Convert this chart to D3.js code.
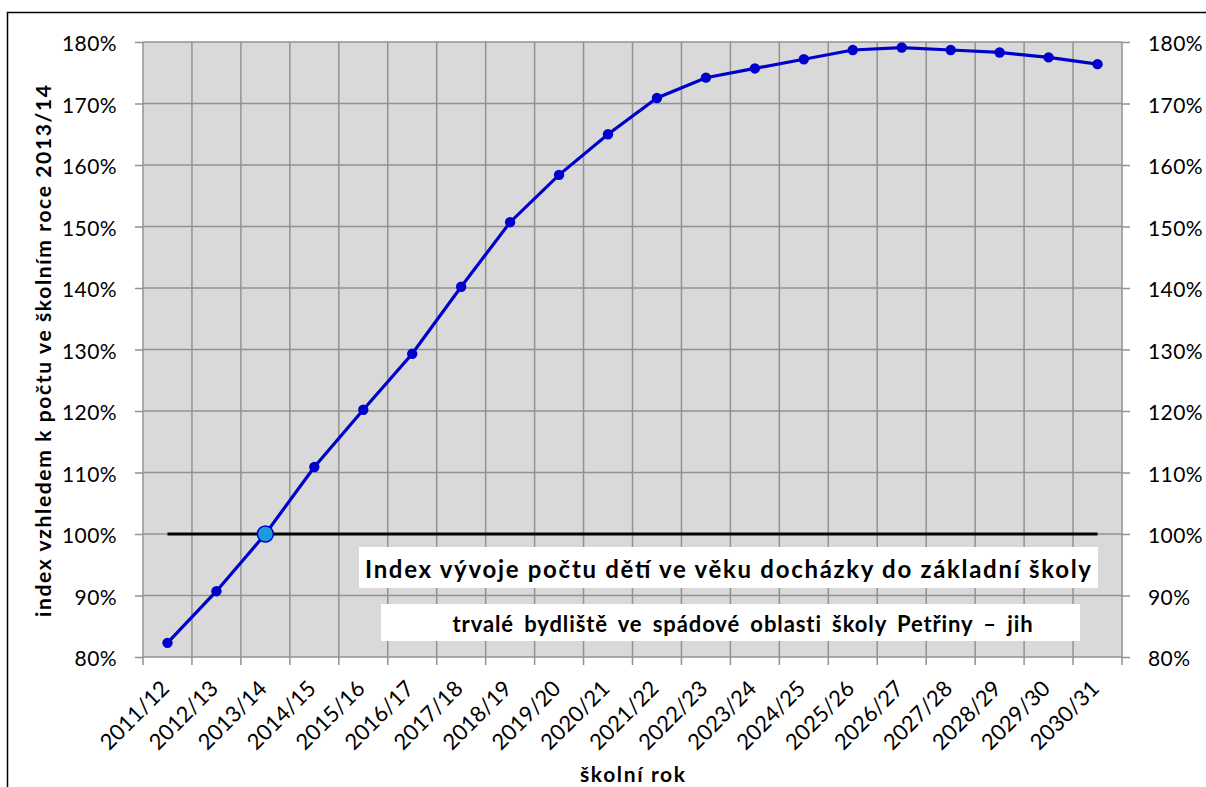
<!DOCTYPE html>
<html>
<head>
<meta charset="utf-8">
<script src="https://cdn.jsdelivr.net/npm/d3@7"></script>
<style>
  body { margin: 0; background: #fff; }
  text { font-family: Lato, "Open Sans", sans-serif; fill: #000; }
</style>
</head>
<body>
<div class="chart"></div>
<script>
const years = ["2011/12","2012/13","2013/14","2014/15","2015/16","2016/17","2017/18","2018/19","2019/20","2020/21",
               "2021/22","2022/23","2023/24","2024/25","2025/26","2026/27","2027/28","2028/29","2029/30","2030/31"];
const indexValues = [82.3, 90.7, 100, 110.9, 120.2, 129.3, 140.2, 150.7, 158.4, 165.0,
                     170.9, 174.2, 175.7, 177.2, 178.7, 179.1, 178.7, 178.3, 177.5, 176.4];
const yTicks = [80, 90, 100, 110, 120, 130, 140, 150, 160, 170, 180];
const baseYear = "2013/14";

const w = 1206, h = 787;
const margin = { top: 42, right: 84, bottom: 130, left: 143 };
const width = w - margin.left - margin.right;
const height = h - margin.top - margin.bottom;

const svg = d3.select(".chart").append("svg")
  .attr("width", w).attr("height", h);

// outer frame
svg.append("rect")
  .attr("x", 7.5).attr("y", 12.5).attr("width", 1220).attr("height", 800)
  .attr("fill", "none").attr("stroke", "#000").attr("stroke-width", 1.5);

const g = svg.append("g").attr("transform", `translate(${margin.left},${margin.top})`);

const x = d3.scaleBand().domain(years).range([0, width]);
const y = d3.scaleLinear().domain([80, 180]).range([height, 0]);

g.append("rect").attr("width", width).attr("height", height).attr("fill", "#d9d9d9");

// grid
g.selectAll(".hgrid").data(yTicks).enter().append("line")
  .attr("x1", 0).attr("x2", width)
  .attr("y1", d => y(d)).attr("y2", d => y(d))
  .attr("stroke", "#929292").attr("stroke-width", 1.5);
const vlines = years.map(d => x(d)).concat([width]);
g.selectAll(".vgrid").data(vlines).enter().append("line")
  .attr("x1", d => d).attr("x2", d => d)
  .attr("y1", 0).attr("y2", height)
  .attr("stroke", "#929292").attr("stroke-width", 1.5);

// axes
const fmt = d => d + "%";
const yl = g.append("g").call(d3.axisLeft(y).tickValues(yTicks).tickFormat(fmt).tickSize(8).tickPadding(18));
const yr = g.append("g").attr("transform", `translate(${width},0)`)
  .call(d3.axisRight(y).tickValues(yTicks).tickFormat(fmt).tickSize(8).tickPadding(18));
[yl, yr].forEach(a => {
  a.select(".domain").remove();
  a.selectAll("line").attr("stroke", "#929292").attr("stroke-width", 1.5);
  a.selectAll("text").style("font-size", "21px").attr("dy", "0.42em").style("letter-spacing", "0.4px");
});
g.selectAll(".xtick").data(vlines).enter().append("line")
  .attr("x1", d => d).attr("x2", d => d)
  .attr("y1", height).attr("y2", height + 8)
  .attr("stroke", "#929292").attr("stroke-width", 1.5);
g.selectAll(".xlabel").data(years).enter().append("text")
  .attr("transform", d => `translate(${x(d) + x.bandwidth() / 2 + 3},${height + 33}) rotate(-45)`)
  .attr("text-anchor", "end")
  .style("font-size", "22px")
  .text(d => d);

// 100 % reference line
g.append("line")
  .attr("x1", x(years[0]) + x.bandwidth() / 2)
  .attr("x2", x(years[years.length - 1]) + x.bandwidth() / 2)
  .attr("y1", y(100)).attr("y2", y(100))
  .attr("stroke", "#000").attr("stroke-width", 3);

// series
const line = d3.line()
  .x((d, i) => x(years[i]) + x.bandwidth() / 2)
  .y(d => y(d));
g.append("path").datum(indexValues)
  .attr("d", line).attr("fill", "none")
  .attr("stroke", "#0000cc").attr("stroke-width", 3.2);
g.selectAll(".pt").data(indexValues).enter().append("circle")
  .attr("cx", (d, i) => x(years[i]) + x.bandwidth() / 2)
  .attr("cy", d => y(d))
  .attr("r", 5.2)
  .attr("fill", "#0000cc");
const bi = years.indexOf(baseYear);
g.append("circle")
  .attr("cx", x(baseYear) + x.bandwidth() / 2)
  .attr("cy", y(indexValues[bi]))
  .attr("r", 8)
  .attr("fill", "#1a9be0").attr("stroke", "#0000cc").attr("stroke-width", 1.5);

// titles boxes
svg.append("rect").attr("x", 359).attr("y", 547).attr("width", 739).attr("height", 41).attr("fill", "#fff");
svg.append("text").attr("x", 365).attr("y", 578)
  .attr("textLength", 726).attr("lengthAdjust", "spacing")
  .style("font-size", "24px").style("font-weight", "bold")
  .text("Index vývoje počtu dětí ve věku docházky do základní školy");
svg.append("rect").attr("x", 381).attr("y", 604).attr("width", 699).attr("height", 37).attr("fill", "#fff");
svg.append("text").attr("x", 743).attr("y", 632).attr("text-anchor", "middle")
  .style("font-size", "22px").style("font-weight", "bold")
  .style("word-spacing", "4px").style("letter-spacing", "0.9px")
  .text("trvalé bydliště ve spádové oblasti školy Petřiny – jih");

// axis titles
svg.append("text")
  .attr("transform", "translate(51,617) rotate(-90)")
  .attr("textLength", 532).attr("lengthAdjust", "spacing")
  .style("font-size", "21px").style("font-weight", "bold")
  .text("index vzhledem k počtu ve školním roce 2013/14");
svg.append("text")
  .attr("x", 580).attr("y", 782)
  .attr("textLength", 105).attr("lengthAdjust", "spacing")
  .style("font-size", "21px").style("font-weight", "bold")
  .text("školní rok");
</script>
</body>
</html>
